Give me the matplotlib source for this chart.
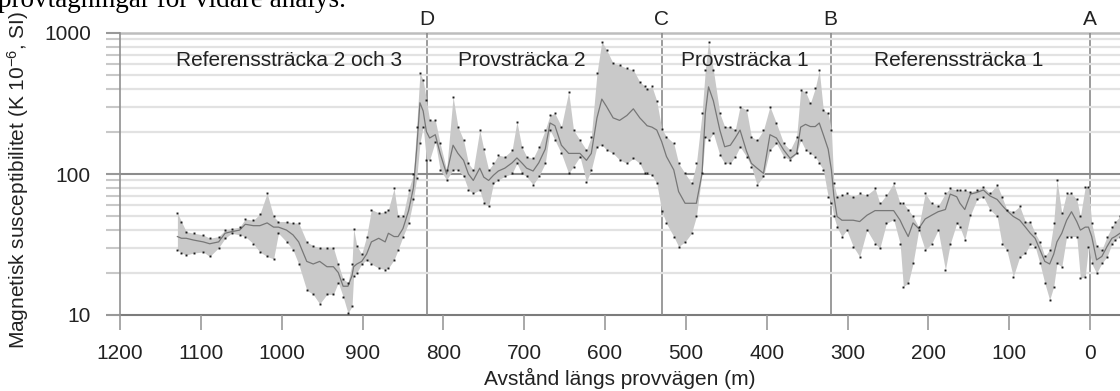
import matplotlib
matplotlib.use("Agg")
import matplotlib.pyplot as plt
import matplotlib.transforms as mtransforms
from matplotlib.ticker import LogLocator, NullFormatter, FixedLocator

plt.rcParams['font.family'] = ['Liberation Sans', 'DejaVu Sans']
plt.rcParams['mathtext.fontset'] = 'custom'
plt.rcParams['mathtext.rm'] = 'Liberation Sans'
plt.rcParams['mathtext.default'] = 'regular'

# avstånd (m), max, min och medel av mätningarna
pos = [1129, 1124, 1118, 1109, 1097, 1089, 1078, 1070, 1062, 1052, 1045, 1035, 1027, 1018,
       1010, 1004, 994, 986, 979, 969, 961, 953, 944, 936, 930, 924, 918, 913, 911, 907,
       901, 895, 889, 880, 872, 868, 861, 856, 850, 843, 837, 833, 829, 825, 821, 817,
       810, 804, 796, 788, 782, 775, 769, 763, 755, 750, 744, 738, 732, 724, 715, 709,
       703, 697, 689, 682, 674, 668, 662, 654, 645, 639, 631, 623, 617, 610, 604, 598,
       590, 582, 573, 565, 557, 551, 548, 542, 536, 530, 524, 515, 509, 501, 493, 487,
       480, 476, 472, 466, 458, 452, 445, 439, 433, 425, 419, 412, 404, 396, 388, 379,
       371, 363, 358, 352, 346, 340, 335, 330, 324, 320, 317, 313, 307, 301, 293, 285,
       276, 266, 260, 252, 243, 235, 231, 225, 219, 212, 204, 196, 188, 179, 173, 165,
       161, 155, 148, 140, 132, 124, 115, 109, 103, 95, 87, 80, 74, 68, 62, 56,
       50, 45, 41, 35, 29, 23, 16.5, 12, 6, 2, -2, -8, -14.5, -21, -27, -31, -37]
hi = [53, 46, 39, 38, 37, 35, 36, 40, 41, 42, 48, 47, 52, 73,
      50, 46, 46, 45, 45, 33, 31, 30, 30, 30, 23, 18, 17, 23, 41, 31,
      27, 36, 56, 53, 54, 56, 79, 50, 50, 77, 100, 217, 520, 464, 335, 241,
      241, 165, 107, 354, 217, 174, 119, 107, 205, 150, 107, 119, 136, 133, 148, 235,
      156, 133, 129, 156, 205, 262, 269, 217, 383, 205, 174, 148, 184, 518, 870, 757,
      610, 593, 561, 547, 450, 420, 400, 418, 330, 210, 184, 165, 119, 101, 86, 119,
      269, 547, 870, 547, 269, 217, 217, 205, 301, 285, 184, 174, 205, 301, 229, 165,
      148, 184, 394, 383, 318, 405, 545, 285, 269, 205, 86, 69, 71, 73, 69, 73,
      71, 79, 62, 71, 86, 62, 62, 56, 50, 42, 73, 62, 59, 73, 79, 77,
      77, 77, 75, 77, 81, 73, 84, 69, 56, 54, 59, 46, 46, 38, 33, 26,
      29, 45, 91, 53, 73, 73, 66, 50, 81, 81, 45, 31, 29, 36, 42, 46, 50]
lo = [29, 27.5, 26.7, 27.5, 28, 26, 30, 35, 38, 37, 36, 32, 28, 26,
      25, 38, 33, 29, 23, 15, 14, 12, 14, 14, 17, 13.5, 10.3, 11.5, 19, 20,
      23, 24.6, 23, 21.5, 21, 21.5, 24.6, 29, 36, 45, 66, 93, 165, 217, 126, 126,
      170, 107, 91, 107, 107, 96, 77, 73, 77, 62, 59, 86, 91, 96, 101, 119,
      101, 96, 84, 96, 119, 205, 174, 140, 101, 113, 133, 88, 107, 156, 161, 148,
      140, 126, 119, 129, 119, 101, 101, 98, 86, 55, 44.6, 36, 30.6, 33, 38, 50,
      101, 184, 174, 194, 136, 119, 119, 133, 156, 133, 113, 84, 96, 148, 165, 133,
      126, 140, 174, 148, 140, 133, 119, 107, 69, 62, 50, 42, 36, 40, 30.6, 25.9,
      40, 32, 29.8, 44.6, 47.5, 32, 15.9, 16.8, 23.2, 40, 28.9, 32, 40, 20.9, 32, 44.6,
      42, 34, 51, 66, 69, 56, 50, 32, 28.9, 18.7, 25.9, 27.4, 32, 30.6, 23.2, 16.8,
      12.8, 15.9, 23.2, 22, 36, 36, 36, 18.2, 18.7, 30.6, 23.2, 19.8, 23.2, 25.9, 32, 34, 36]
mean = [36, 35, 35, 34, 33, 32, 33, 38, 39, 40, 44, 43, 43, 45,
        42, 42, 40, 37, 33, 24, 23, 24, 22, 22, 20, 16, 16, 19, 22, 23,
        24, 27, 33, 35, 33, 38, 36, 36, 41, 55, 80, 150, 320, 280, 200, 180,
        190, 140, 100, 160, 140, 125, 100, 90, 110, 95, 90, 98, 105, 110, 120, 130,
        120, 110, 105, 120, 150, 230, 220, 160, 140, 140, 140, 125, 140, 250, 340, 300,
        250, 240, 260, 290, 250, 230, 220, 215, 205, 170, 133, 107, 75, 62, 62, 62,
        101, 269, 415, 330, 205, 156, 160, 180, 205, 145, 119, 110, 101, 190, 180, 148,
        129, 140, 215, 225, 217, 217, 230, 190, 150, 107, 70, 50, 47, 47, 47, 46,
        51, 55, 55, 55, 55, 47, 42, 36, 45, 41, 48, 51, 54, 56, 72, 69,
        62, 56, 72, 74, 77, 70, 66, 60, 55, 50, 47, 42, 38, 35, 29, 24,
        23, 27, 33, 38, 47, 54, 46, 40, 42, 42, 36, 24.6, 26, 30.6, 35, 36, 38]

regions = ['Referenssträcka 2 och 3', 'Provsträcka 2', 'Provsträcka 1', 'Referenssträcka 1']
region_x = [991, 703, 427, 162]
marks = ['D', 'C', 'B', 'A']
mark_x = [820, 530, 321, 0]

fig = plt.figure(figsize=(11.2, 3.91), dpi=100)
ax = fig.add_axes([120 / 1120, 76 / 391, 1000 / 1120, 282 / 391])

ax.set_yscale('log')
ax.set_ylim(10, 1000)
ax.set_xlim(1200, -37)

# band mellan min och max, medellinje och enskilda mätpunkter
ax.fill_between(pos, lo, hi, color='#c9c9c9', lw=0, zorder=2)
ax.plot(pos, mean, color='#777777', lw=0.9, zorder=3)
ax.plot(pos, hi, ls='none', marker='s', ms=1.4, mew=0, color='#1a1a1a', zorder=4)
ax.plot(pos, lo, ls='none', marker='s', ms=1.4, mew=0, color='#1a1a1a', zorder=4)

# rutnät
ax.yaxis.set_major_locator(FixedLocator([10, 100, 1000]))
ax.yaxis.set_minor_locator(LogLocator(base=10, subs=range(2, 10)))
ax.yaxis.set_minor_formatter(NullFormatter())
ax.grid(True, which='minor', axis='y', color='#e2e2e2', lw=1.6, zorder=0)
ax.axhline(100, color='#8c8c8c', lw=1.5, zorder=1)
ax.axhline(1000, color='#bdbdbd', lw=1.8, zorder=1, clip_on=False)
ax.axhline(10, color='#7c7c7c', lw=1.5, zorder=1, clip_on=False)

for x in mark_x:
    ax.axvline(x, color='#8a8a8a', lw=1.2, zorder=1)

trans = mtransforms.blended_transform_factory(ax.transData, ax.transAxes)
for m, x in zip(marks, mark_x):
    ax.text(x, 1.048, m, transform=trans, ha='center', va='center', fontsize=15, color='#222222')

for r, x in zip(regions, region_x):
    ax.text(x, 640, r, ha='center', va='center', fontsize=15, color='#222222', zorder=5)

ax.set_xticks(range(1200, -1, -100))
ax.set_yticklabels(['10', '100', '1000'])
ax.tick_params(axis='y', which='both', length=10, width=1.5, color='#c8c8c8', pad=11,
               labelsize=15, labelcolor='#222222')
ax.tick_params(axis='y', which='major', color='#999999')
ax.tick_params(axis='x', length=11, width=1.2, color='#999999', pad=10,
               labelsize=15, labelcolor='#222222')

for s in ['top', 'right', 'bottom']:
    ax.spines[s].set_visible(False)
ax.spines['left'].set_color('#909090')
ax.spines['left'].set_linewidth(1.2)

fig.text(620 / 1120, 1 - 378 / 391, 'Avstånd längs provvägen (m)', ha='center', va='center',
         fontsize=15, color='#222222')
fig.text(18 / 1120, 1 - 180 / 391, 'Magnetisk susceptibilitet (K 10$^{-6}$, SI)', rotation=90,
         ha='center', va='center', fontsize=15, color='#222222')

# avklippt rad ur dokumentet ovanför
fig.text(-2 / 1120, 1 - 7 / 391, 'provtagningar för vidare analys.', ha='left', va='baseline',
         fontsize=19.5, family=['Liberation Serif', 'DejaVu Serif'], color='black')

fig.savefig('out.png', dpi=100)
